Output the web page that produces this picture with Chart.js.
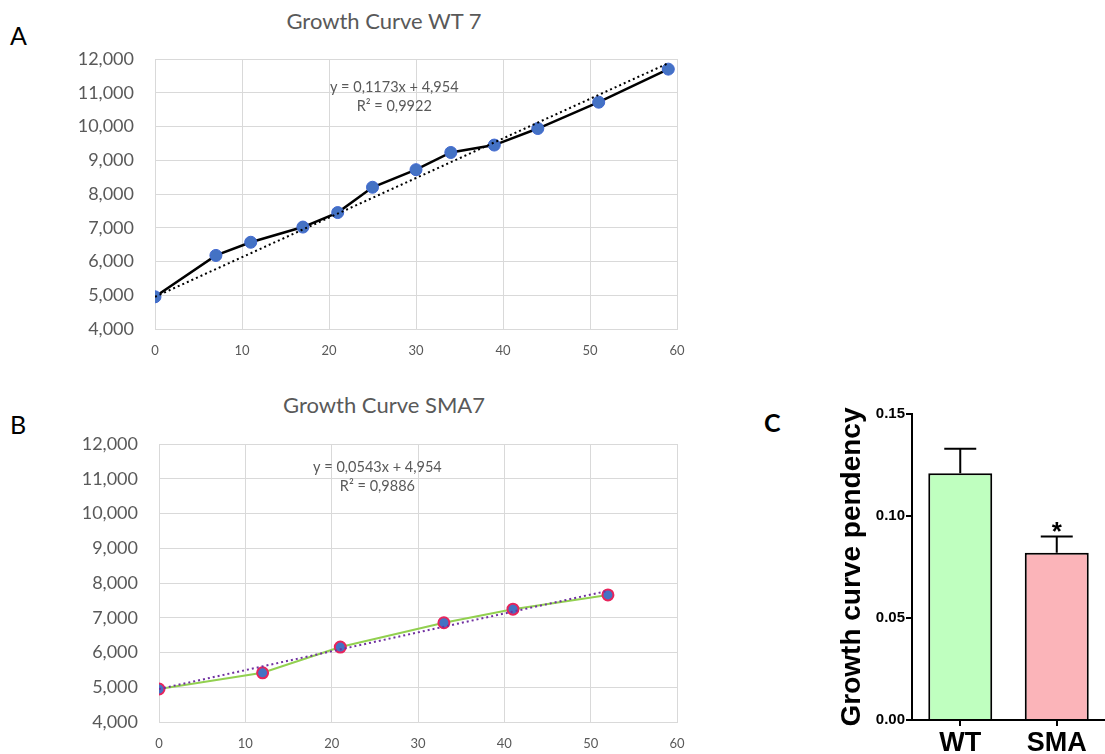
<!DOCTYPE html>
<html><head><meta charset="utf-8">
<script src="https://cdn.jsdelivr.net/npm/chart.js@4.4.1/dist/chart.umd.min.js"></script>
<style>
html,body{margin:0;padding:0;background:#fff;width:1105px;height:754px;overflow:hidden;position:relative;}
canvas{position:absolute;}
.t{position:absolute;line-height:1;white-space:nowrap;}
.letter{font-family:Lato,sans-serif;font-size:25px;color:#000;}
.ttl{font-family:Lato,sans-serif;font-size:22px;color:#595959;transform:translateX(-50%);}
</style></head><body>
<div class="t letter" style="left:10px;top:23px;">A</div>
<div class="t letter" style="left:10px;top:412px;">B</div>
<div class="t letter" style="left:764px;top:410px;font-weight:bold;">C</div>
<div class="t ttl" style="left:384px;top:10px;">Growth Curve WT 7</div>
<div class="t ttl" style="left:384px;top:394px;">Growth Curve SMA7</div>
<canvas id="cA" width="700" height="370" style="left:0;top:0;"></canvas>
<canvas id="cB" width="700" height="374" style="left:0;top:380px;"></canvas>
<canvas id="cC" width="345" height="364" style="left:760px;top:390px;"></canvas>
<script>
// ---- data ----
const wtDays = [0, 7, 11, 17, 21, 25, 30, 34, 39, 44, 51, 59];
const wtSize = [4954, 6180, 6570, 7020, 7450, 8200, 8720, 9230, 9450, 9940, 10720, 11700];
const wtTrendDays = [0, 59];
const wtTrendSize = [4954, 11875];
const wtEquation = ['y = 0,1173x + 4,954', 'R\u00B2 = 0,9922'];

const smaDays = [0, 12, 21, 33, 41, 52];
const smaSize = [4954, 5420, 6160, 6860, 7250, 7660];
const smaTrendDays = [0, 52];
const smaTrendSize = [4954, 7778];
const smaEquation = ['y = 0,0543x + 4,954', 'R\u00B2 = 0,9886'];

const growthYTicks = [4000, 5000, 6000, 7000, 8000, 9000, 10000, 11000, 12000];
const growthXTicks = [0, 10, 20, 30, 40, 50, 60];

const groups = ['WT', 'SMA'];
const pendencyMean = [0.121, 0.082];
const pendencyErr = [0.012, 0.008];
const significance = ['', '*'];
const pendencyYTicks = [0, 0.05, 0.10, 0.15];

Chart.defaults.font.family = 'Lato';
Chart.defaults.animation = false;

const pts = (xs, ys) => xs.map((x, i) => ({x: x, y: ys[i]}));

const eqPlugin = {
  id: 'eqText',
  afterDatasetsDraw(chart, args, opts) {
    if (!opts || !opts.lines) return;
    const ctx = chart.ctx;
    const x = chart.scales.x.getPixelForValue(opts.x);
    const y = chart.scales.y.getPixelForValue(opts.y);
    ctx.save();
    ctx.font = opts.font;
    ctx.fillStyle = opts.color;
    ctx.textAlign = 'center';
    ctx.textBaseline = 'middle';
    opts.lines.forEach((l, i) => ctx.fillText(l, x, y + i * opts.lineHeight));
    ctx.restore();
  }
};

function growthChart(id, days, size, tDays, tSize, eq, eqX, eqY, style, padTop, yWidth, xHeight) {
  return new Chart(document.getElementById(id), {
    type: 'scatter',
    data: {
      datasets: [
        {
          data: pts(tDays, tSize), showLine: true, pointRadius: 0,
          borderColor: style.trend, borderWidth: 2, borderDash: [2, 3], order: 0
        },
        {
          data: pts(days, size), showLine: true,
          borderColor: style.line, borderWidth: style.lineWidth,
          pointRadius: style.radius, pointBackgroundColor: style.pointFill,
          pointBorderColor: style.pointBorder, pointBorderWidth: style.pointBorderWidth, order: 1
        }
      ]
    },
    options: {
      responsive: false, devicePixelRatio: 1,
      layout: {padding: {left: 0, top: padTop, right: 23, bottom: 0}},
      plugins: {
        legend: {display: false}, tooltip: {enabled: false},
        eqText: {lines: eq, x: eqX, y: eqY, font: '14.5px Lato', color: '#595959', lineHeight: 19}
      },
      scales: {
        x: {
          type: 'linear', min: 0, max: 60,
          afterBuildTicks: s => { s.ticks = growthXTicks.map(v => ({value: v})); },
          afterFit: s => { s.height = xHeight; },
          grid: {color: '#d9d9d9', lineWidth: 1, drawTicks: false},
          border: {color: '#d9d9d9', width: 1},
          ticks: {font: {size: 13}, color: '#595959', padding: 14, maxRotation: 0}
        },
        y: {
          min: 4000, max: 12000,
          afterBuildTicks: s => { s.ticks = growthYTicks.map(v => ({value: v})); },
          afterFit: s => { s.width = yWidth; },
          grid: {color: '#d9d9d9', lineWidth: 1, drawTicks: false},
          border: {color: '#d9d9d9', width: 1},
          ticks: {font: {size: 18}, color: '#595959', padding: 21,
            callback: v => v.toLocaleString('en-US')}
        }
      }
    },
    plugins: [eqPlugin]
  });
}

growthChart('cA', wtDays, wtSize, wtTrendDays, wtTrendSize, wtEquation, 27.5, 11170,
  {trend: '#000000', line: '#000000', lineWidth: 2.5, radius: 6, pointFill: '#4472c4', pointBorder: '#3f67d0', pointBorderWidth: 1},
  59, 155, 41);

growthChart('cB', smaDays, smaSize, smaTrendDays, smaTrendSize, smaEquation, 25.3, 11340,
  {trend: '#7030a0', line: '#92d050', lineWidth: 2, radius: 5.5, pointFill: '#4472c4', pointBorder: '#e8245c', pointBorderWidth: 2},
  64, 159, 31);

// ---- panel C ----
const errPlugin = {
  id: 'errBars',
  afterDatasetsDraw(chart) {
    const ctx = chart.ctx;
    const meta = chart.getDatasetMeta(0);
    const ys = chart.scales.y;
    ctx.save();
    ctx.strokeStyle = '#000';
    ctx.lineWidth = 2;
    meta.data.forEach((bar, i) => {
      const x = bar.x;
      const yTop = ys.getPixelForValue(pendencyMean[i] + pendencyErr[i]);
      const yMean = ys.getPixelForValue(pendencyMean[i]);
      const half = bar.width / 4;
      ctx.beginPath();
      ctx.moveTo(x, yMean); ctx.lineTo(x, yTop);
      ctx.moveTo(x - half, yTop); ctx.lineTo(x + half, yTop);
      ctx.stroke();
      if (significance[i]) {
        ctx.fillStyle = '#000';
        ctx.font = 'bold 26px "Liberation Sans", Arial';
        ctx.textAlign = 'center';
        ctx.textBaseline = 'alphabetic';
        ctx.fillText(significance[i], x, yTop + 4);
      }
    });
    ctx.restore();
  }
};

new Chart(document.getElementById('cC'), {
  type: 'bar',
  data: {
    labels: groups,
    datasets: [{
      data: pendencyMean,
      backgroundColor: ['#bfffbf', '#fbb4b9'],
      borderColor: '#000', borderWidth: 2,
      categoryPercentage: 1, barPercentage: 0.663
    }]
  },
  options: {
    responsive: false, devicePixelRatio: 1,
    layout: {padding: {left: 0, top: 24, right: 0, bottom: 0}},
    plugins: {legend: {display: false}, tooltip: {enabled: false}},
    scales: {
      x: {
        afterFit: s => { s.height = 34; },
        grid: {drawOnChartArea: false, offset: false, drawTicks: true, tickLength: 6, color: '#000', lineWidth: 2},
        border: {color: '#000', width: 2},
        ticks: {font: {family: '"Liberation Sans", Arial', size: 27, weight: 'bold'}, color: '#000', padding: 1}
      },
      y: {
        min: 0, max: 0.15,
        afterBuildTicks: s => { s.ticks = pendencyYTicks.map(v => ({value: v})); },
        afterFit: s => { s.width = 152; },
        grid: {drawOnChartArea: false, drawTicks: true, tickLength: 6, color: '#000', lineWidth: 2},
        border: {color: '#000', width: 2},
        ticks: {font: {family: '"Liberation Sans", Arial', size: 15, weight: 'bold'}, color: '#000', padding: 1,
          callback: v => v.toFixed(2)},
        title: {display: true, text: 'Growth curve pendency',
          font: {family: '"Liberation Sans", Arial', size: 28, weight: 'bold'}, color: '#000',
          padding: {top: 75, bottom: 0}}
      }
    }
  },
  plugins: [errPlugin]
});
</script>
</body></html>
